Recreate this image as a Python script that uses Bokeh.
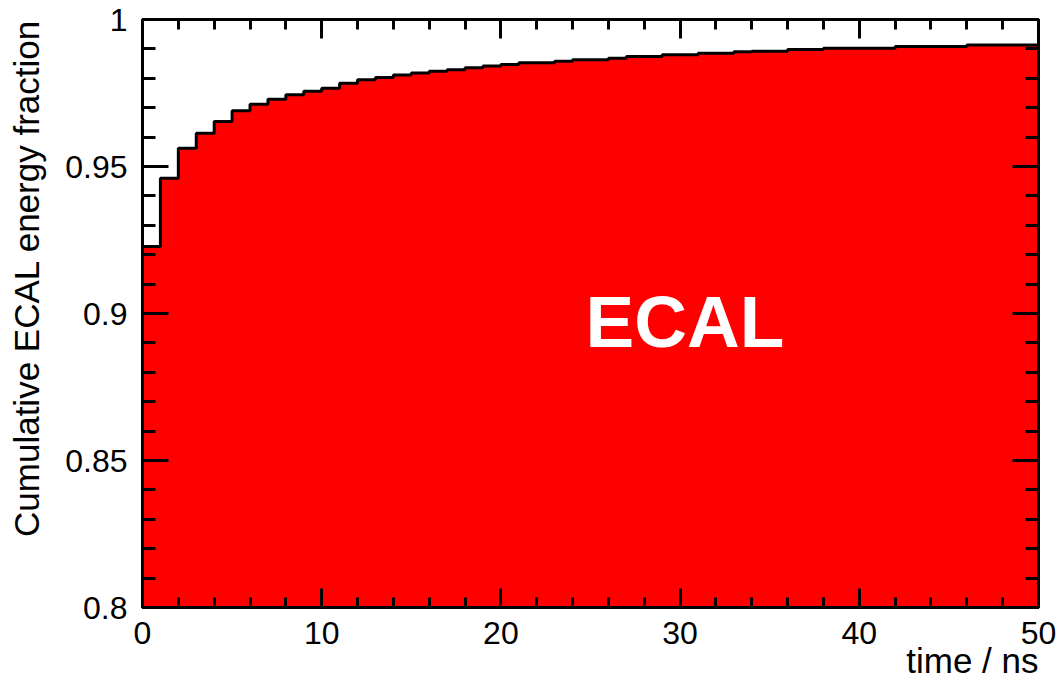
import math
from bokeh.plotting import figure
from bokeh.models import Range1d, LinearAxis, FixedTicker, Title
from bokeh.models import Label
from bokeh.embed import file_html
from bokeh.resources import INLINE

# ---- data ----
bin_left = list(range(0, 50))
bin_width = 1.0
fraction = [
    0.9228, 0.9460, 0.9562, 0.9613, 0.9653, 0.9690, 0.9712, 0.9729, 0.9744, 0.9756,
    0.9766, 0.9783, 0.9795, 0.9803, 0.9811, 0.9818, 0.9824, 0.9829, 0.9836, 0.9842,
    0.9847, 0.9853, 0.9853, 0.9858, 0.9863, 0.9863, 0.9868, 0.9874, 0.9874, 0.9880,
    0.9880, 0.9885, 0.9885, 0.9890, 0.9892, 0.9892, 0.9898, 0.9898, 0.9902, 0.9902,
    0.9902, 0.9902, 0.9908, 0.9908, 0.9908, 0.9908, 0.9913, 0.9913, 0.9913, 0.9913,
]
x_ticks = [0, 10, 20, 30, 40, 50]
x_minor = list(range(0, 51, 2))
y_ticks = [0.8, 0.85, 0.9, 0.95, 1.0]
y_tick_labels = ["0.8", "0.85", "0.9", "0.95", "1"]
y_minor = [round(0.8 + 0.01 * i, 2) for i in range(21)]
x_label = "time / ns"
y_label = "Cumulative ECAL energy fraction"
tag = "ECAL"

FONT = "Liberation Sans"
FS = "32px"
FS_TITLE = "35px"

p = figure(width=1062, height=677, output_backend="svg", toolbar_location=None,
           x_range=Range1d(0, 50), y_range=Range1d(0.8, 1.0),
           min_border_left=142, min_border_right=24, min_border_top=19, min_border_bottom=70,
           x_axis_location=None, y_axis_location=None)
p.background_fill_color = "white"
p.border_fill_color = "white"
p.grid.visible = False
p.outline_line_color = "black"
p.outline_line_width = 3

edges = bin_left + [bin_left[-1] + bin_width]
p.varea_step(x=edges, y1=[0.0] * len(edges), y2=fraction + [fraction[-1]],
             step_mode="after", fill_color="#FF0000")
p.step(x=edges, y=fraction + [fraction[-1]], mode="after",
       line_color="black", line_width=3)

def style(ax, tick_in, minor_in, labels=True):
    ax.major_tick_in = tick_in
    ax.major_tick_out = 0
    ax.minor_tick_in = minor_in
    ax.minor_tick_out = 0
    ax.major_tick_line_width = 3
    ax.minor_tick_line_width = 3
    ax.major_tick_line_color = "black"
    ax.minor_tick_line_color = "black"
    ax.axis_line_color = "black"
    ax.axis_line_width = 3
    ax.major_label_text_font = FONT
    ax.major_label_text_font_size = FS if labels else "0px"
    ax.major_label_text_color = "black"

xt = FixedTicker(ticks=x_ticks, minor_ticks=x_minor)
yt = FixedTicker(ticks=y_ticks, minor_ticks=y_minor)

xb = LinearAxis(ticker=xt)
style(xb, 19, 10)
xb.major_label_standoff = 14
p.add_layout(xb, "below")

xa = LinearAxis(ticker=xt)
style(xa, 19, 10, labels=False)
xa.major_label_standoff = 0
p.add_layout(xa, "above")

yl = LinearAxis(ticker=yt)
style(yl, 26, 13)
yl.major_label_standoff = 15
yl.major_label_overrides = {t: s for t, s in zip(y_ticks, y_tick_labels)}
p.add_layout(yl, "left")

# invisible spacer between the y tick labels and the y title
spacer = LinearAxis(ticker=FixedTicker(ticks=[1.0], minor_ticks=[]))
spacer.axis_line_color = None
spacer.major_tick_line_color = None
spacer.minor_tick_line_color = None
spacer.major_tick_in = 0
spacer.major_tick_out = 14
spacer.minor_tick_in = 0
spacer.minor_tick_out = 0
spacer.major_label_standoff = 0
spacer.major_label_text_font_size = "0px"
p.add_layout(spacer, "left")

yr = LinearAxis(ticker=yt)
style(yr, 26, 13, labels=False)
yr.major_label_standoff = 0
p.add_layout(yr, "right")

p.add_layout(Title(text=x_label, align="right", text_font=FONT, text_font_size=FS_TITLE,
                   text_font_style="normal", text_color="black", standoff=-16), "below")
p.add_layout(Title(text=y_label, align="right", text_font=FONT, text_font_size=FS_TITLE,
                   text_font_style="normal", text_color="black", standoff=6), "left")

p.add_layout(Label(x=30.27, y=0.8973, text=tag, text_font=FONT, text_font_style="bold",
                   text_font_size="73px", text_color="white", text_align="center",
                   text_baseline="alphabetic"))

open("out.html", "w").write(file_html(p, INLINE))
